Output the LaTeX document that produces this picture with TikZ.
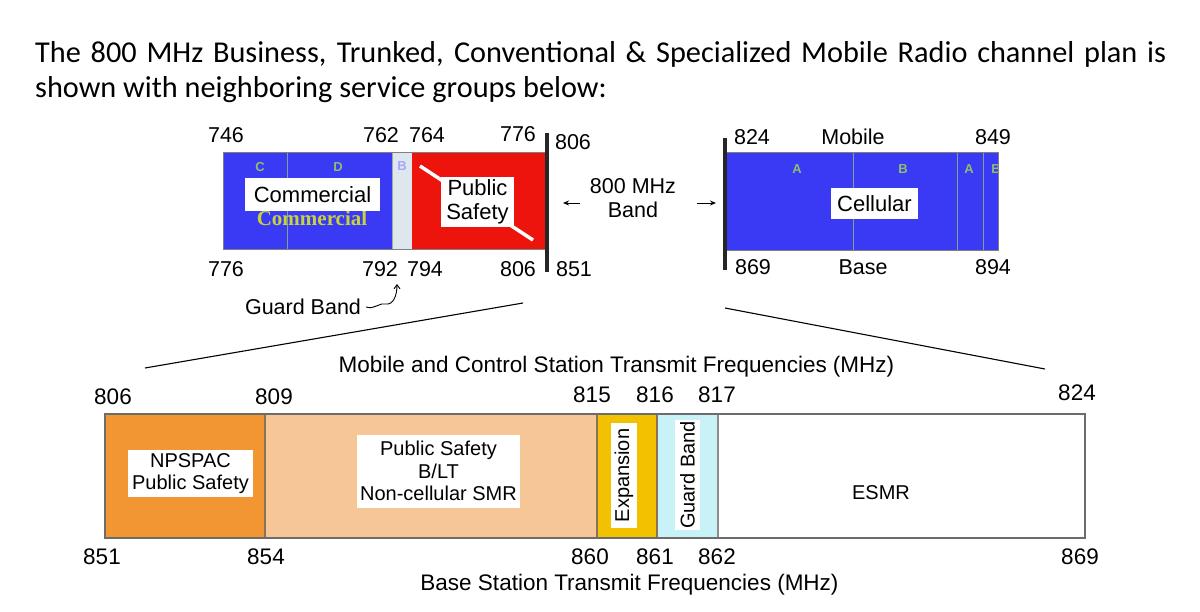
\documentclass[tikz,border=0pt]{standalone}
\usepackage{fontspec}
\setmainfont{Liberation Sans}
\newfontfamily\hdrfont{Carlito}
\newfontfamily\serfont{Liberation Serif}
\usetikzlibrary{arrows.meta}
\definecolor{tblue}{RGB}{58,58,245}
\definecolor{tred}{RGB}{236,20,12}
\definecolor{bstrip}{RGB}{222,230,238}
\definecolor{chgreen}{RGB}{140,190,110}
\definecolor{cyell}{RGB}{200,210,60}
\definecolor{npsorange}{RGB}{241,150,50}
\definecolor{peach}{RGB}{246,198,150}
\definecolor{expyel}{RGB}{242,194,0}
\definecolor{gbcyan}{RGB}{200,242,248}
\definecolor{divider}{RGB}{135,115,85}
\begin{document}
\begin{tikzpicture}[x=1pt,y=-1pt,
  hdr/.style={font=\hdrfont\fontsize{30.3}{35}\selectfont, inner sep=0, anchor=base west},
  num/.style={font=\fontsize{21.5}{24}\selectfont, inner sep=0},
  bnum/.style={font=\fontsize{22.5}{24}\selectfont, inner sep=0},
  wlab/.style={fill=white, inner sep=0, align=center, font=\fontsize{22}{24}\selectfont},
  blab/.style={fill=white, inner sep=0, align=center, font=\fontsize{20}{22.5}\selectfont},
  tinyl/.style={font=\fontsize{13}{13}\selectfont\bfseries, inner sep=0, text=chgreen},
  fline/.style={chgreen!80!tblue, line width=1},
  zline/.style={black, line width=1.1},
  arr/.style={-{Stealth[length=6pt,width=5pt]}, line width=0.9}
]
\useasboundingbox (0,0) rectangle (1200,611);

% header
\node[hdr] (h1) at (35,62) {\makebox[1131pt][s]{The 800 MHz Business, Trunked, Conventional \& Specialized Mobile Radio channel plan is}};
\node[hdr] (h2) at (35,97) {shown with neighboring service groups below:};

% ---------- top left band ----------
\fill[tblue] (223,152) rectangle (392,249);
\draw[fline] (287,152) -- (287,249);
\fill[bstrip] (392,152) rectangle (412,249);
\draw[gray!70, line width=0.8] (392,152) -- (392,249) (412,152) -- (412,249);
\fill[tred] (412,152) rectangle (546,249);
\draw[gray, line width=0.8] (223,152) rectangle (546,249);
\node[tinyl] (cC) at (260,167) {C};
\node[tinyl] (cD) at (338,167) {D};
\node[tinyl, text=blue!35] (cB) at (402,166) {B};
\node[font=\serfont\bfseries\fontsize{21}{21}\selectfont, text=cyell, inner sep=0] (commy) at (312,218) {Commercial};
\node[wlab, minimum width=135, minimum height=33] (comm) at (312.5,194.5) {Commercial};
\draw[white, line width=3.5] (420,166) -- (533,240);
\node[wlab, minimum width=73, minimum height=50] (ps) at (477.5,202) {Public\\Safety};
\draw[black!85, line width=3.5] (547,133) -- (547,272);

\node[num] (n746) at (226,135) {746};
\node[num] (n762) at (381,135) {762};
\node[num] (n764) at (427,135) {764};
\node[num] (n776a) at (518,134) {776};
\node[num] (n806a) at (573,142) {806};
\node[num] (n776b) at (226,269) {776};
\node[num] (n792) at (380,269) {792};
\node[num] (n794) at (425,269) {794};
\node[num] (n806b) at (518,269) {806};
\node[num] (n851a) at (574,269) {851};

\node[num] (gb) at (303,307) {Guard Band};
\draw[-{Straight Barb[length=4pt,width=6pt]}, line width=0.9]
  (gb.east) ++(5,0) .. controls (374,310) and (380,302) .. (386,304)
  .. controls (393,305) and (397,296) .. (397,284);

% 800 MHz band label
\node[num, align=center, font=\fontsize{21.5}{24}\selectfont] (band) at (633,198) {800 MHz\\Band};
\coordinate (la) at (563,203);
\coordinate (ra) at (716,203);
\draw[arr] (580,203) -- (la);
\draw[arr] (697,203) -- (ra);

% ---------- top right band ----------
\fill[tblue] (726,152) rectangle (998,250);
\draw[fline] (853,152) -- (853,250) (957,152) -- (957,250) (983,152) -- (983,250);
\node[tinyl] (rA1) at (797,169) {A};
\node[tinyl] (rB1) at (903,169) {B};
\node[tinyl] (rA2) at (969,169) {A};
\begin{scope}
\clip (983,152) rectangle (998,250);
\node[tinyl] (rB2) at (996,169) {B};
\end{scope}
\draw[gray, line width=0.8] (726,152) rectangle (998,250);
\draw[black!85, line width=3.5] (725,138) -- (725,270);
\node[wlab, minimum width=87, minimum height=31] (cell) at (874.5,203.5) {Cellular};

\node[num] (n824a) at (752,137) {824};
\node[num] (mob) at (853,137) {Mobile};
\node[num] (n849) at (993,137) {849};
\node[num] (n869a) at (753,267) {869};
\node[num] (base) at (863,267) {Base};
\node[num] (n894) at (993,267) {894};

% zoom lines
\coordinate (zl1) at (145,368);
\coordinate (zl2) at (523,303);
\coordinate (zr1) at (725,308);
\coordinate (zr2) at (1045,369);
\draw[zline] (zl1) -- (zl2);
\draw[zline] (zr1) -- (zr2);

% ---------- bottom band ----------
\fill[npsorange] (105,414) rectangle (265,538);
\fill[peach] (265,414) rectangle (597,538);
\fill[expyel] (597,414) rectangle (657,538);
\fill[gbcyan] (657,414) rectangle (718,538);
\draw[divider, line width=1.6] (265,414) -- (265,538) (597,414) -- (597,538) (657,414) -- (657,538);
\draw[gray!90, line width=1.6] (718,414) -- (718,538);
\draw[gray!85!black, line width=2] (105,414) rectangle (1085,538);

\node[blab, minimum width=125, minimum height=47] (nps) at (190.5,473.5) {NPSPAC\\Public Safety};
\node[blab, minimum width=163, minimum height=73] (psb) at (438.5,471) {Public Safety\\B/LT\\Non-cellular SMR};
\node[blab, rotate=90, minimum width=105, minimum height=26] (exp) at (624,475.5) {Expansion};
\node[blab, rotate=90, minimum width=110, minimum height=25] (gbv) at (687.5,475) {Guard Band};
\node[bnum, font=\fontsize{20}{22}\selectfont] (esmr) at (881,493) {ESMR};

\node[bnum] (n806c) at (113,397) {806};
\node[bnum] (n809) at (274,397) {809};
\node[bnum] (n815) at (592,395) {815};
\node[bnum] (n816) at (655,395) {816};
\node[bnum] (n817) at (717,395) {817};
\node[bnum] (n824b) at (1077,393) {824};
\node[bnum] (n851b) at (102,557) {851};
\node[bnum] (n854) at (266,557) {854};
\node[bnum] (n860) at (590,557) {860};
\node[bnum] (n861) at (655,557) {861};
\node[bnum] (n862) at (717,557) {862};
\node[bnum] (n869b) at (1080,557) {869};

\node[bnum] (mcs) at (616.5,367) {Mobile and Control Station Transmit Frequencies (MHz)};
\node[bnum] (bst) at (629.5,585) {Base Station Transmit Frequencies (MHz)};
\end{tikzpicture}
\end{document}
